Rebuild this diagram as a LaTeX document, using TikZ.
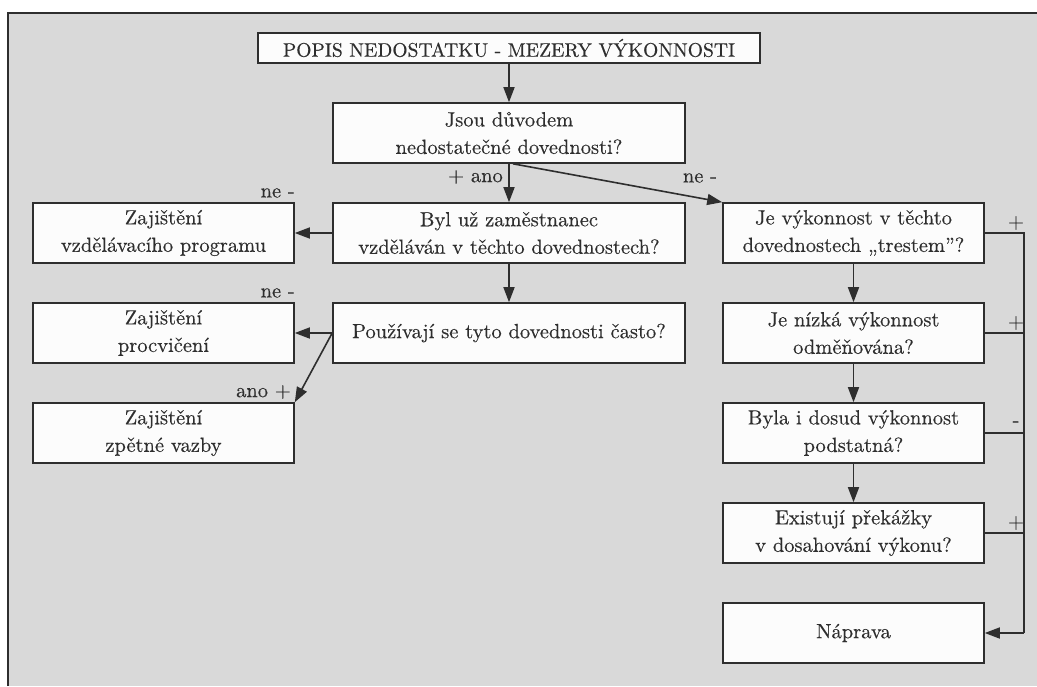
\documentclass[tikz,border=0pt]{standalone}
\usepackage{fontspec}
\newfontfamily\diagfont{lmroman10-regular}[Extension=.otf, FakeBold=0.3]
\usetikzlibrary{arrows.meta}
\definecolor{bggray}{HTML}{D9D9D9}
\definecolor{ink}{HTML}{2E2E2E}
\definecolor{boxfill}{HTML}{FCFCFC}
\begin{document}
\begin{tikzpicture}[x=1pt,y=-1pt,
  every node/.style={font=\diagfont\fontsize{20.5}{27.5}\selectfont, text=ink},
  box/.style={draw=ink, line width=1.6pt, fill=boxfill, minimum height=60pt, align=center, inner sep=0pt},
  midbox/.style={box, minimum width=352pt},
  leftbox/.style={box, minimum width=261pt},
  rightbox/.style={box, minimum width=261pt},
  conn/.style={draw=ink, line width=1.6pt},
  arr/.style={conn, -{Triangle[length=15pt,width=11pt]}},
  lbl/.style={inner sep=0pt}
]
\useasboundingbox (0,0) rectangle (1037,686);
\fill[white] (0,0) rectangle (1037,686);
\fill[bggray] (8,13) rectangle (1037,686);
\draw[ink, line width=1.6pt] (8,686) -- (8,13) -- (1037,13);

\node[box, minimum width=502pt, minimum height=30pt, font=\diagfont\fontsize{19.6}{27}\selectfont] (title) at (509,48) {POPIS NEDOSTATKU - MEZERY VÝKONNOSTI};
\node[midbox] (q1) at (509,133) {Jsou důvodem\\nedostatečné dovednosti?};
\node[midbox] (q2) at (509,233) {Byl už zaměstnanec\\vzděláván v těchto dovednostech?};
\node[midbox] (q3) at (509,333) {Používají se tyto dovednosti často?};

\node[leftbox] (z1) at (163.5,233) {Zajištění\\vzdělávacího programu};
\node[leftbox] (z2) at (163.5,333) {Zajištění\\procvičení};
\node[leftbox] (z3) at (163.5,433) {Zajištění\\zpětné vazby};

\node[rightbox] (r1) at (853.5,233) {Je výkonnost v těchto\\dovednostech „trestem”?};
\node[rightbox] (r2) at (853.5,333) {Je nízká výkonnost\\odměňována?};
\node[rightbox] (r3) at (853.5,433) {Byla i dosud výkonnost\\podstatná?};
\node[rightbox] (r4) at (853.5,533) {Existují překážky\\v dosahování výkonu?};
\node[rightbox] (r5) at (853.5,633) {Náprava};

\coordinate (q1out) at ([xshift=4pt]q1.south);
\coordinate (q3out) at (q3.west);

\draw[arr] (title.south) -- (q1.north);
\draw[arr] (q1.south) -- (q2.north);
\draw[arr] (q1out) -- (r1.north west);
\draw[arr] (q2.south) -- (q3.north);
\draw[arr] (q2.west) -- (z1.east);
\draw[arr] (q3.west) -- (z2.east);
\draw[arr] (q3out) -- (z3.north east);

\draw[arr] (r1.south) -- (r2.north);
\draw[arr] (r2.south) -- (r3.north);
\draw[arr] (r3.south) -- (r4.north);

\coordinate (rail1) at (1024,233);
\coordinate (rail2) at (1024,333);
\coordinate (rail3) at (1024,433);
\coordinate (rail4) at (1024,533);
\coordinate (rail5) at (1024,633);
\draw[conn] (r1.east) -- (rail1) -- (rail5);
\draw[conn] (r2.east) -- (rail2);
\draw[conn] (r3.east) -- (rail3);
\draw[conn] (r4.east) -- (rail4);
\draw[arr] (rail5) -- (r5.east);

\node[lbl, anchor=east] (l1) at (503,177) {+ ano};
\node[lbl] (l2) at (700,178) {ne -};
\node[lbl, anchor=east] (l3) at (295,193) {ne -};
\node[lbl, anchor=east] (l4) at (295,293) {ne -};
\node[lbl, anchor=east] (l5) at (291,392) {ano +};
\node[lbl] (p1) at (1016,223) {+};
\node[lbl] (p2) at (1016,323) {+};
\node[lbl] (p3) at (1016,424) {-};
\node[lbl] (p4) at (1016,523) {+};
\end{tikzpicture}
\end{document}
